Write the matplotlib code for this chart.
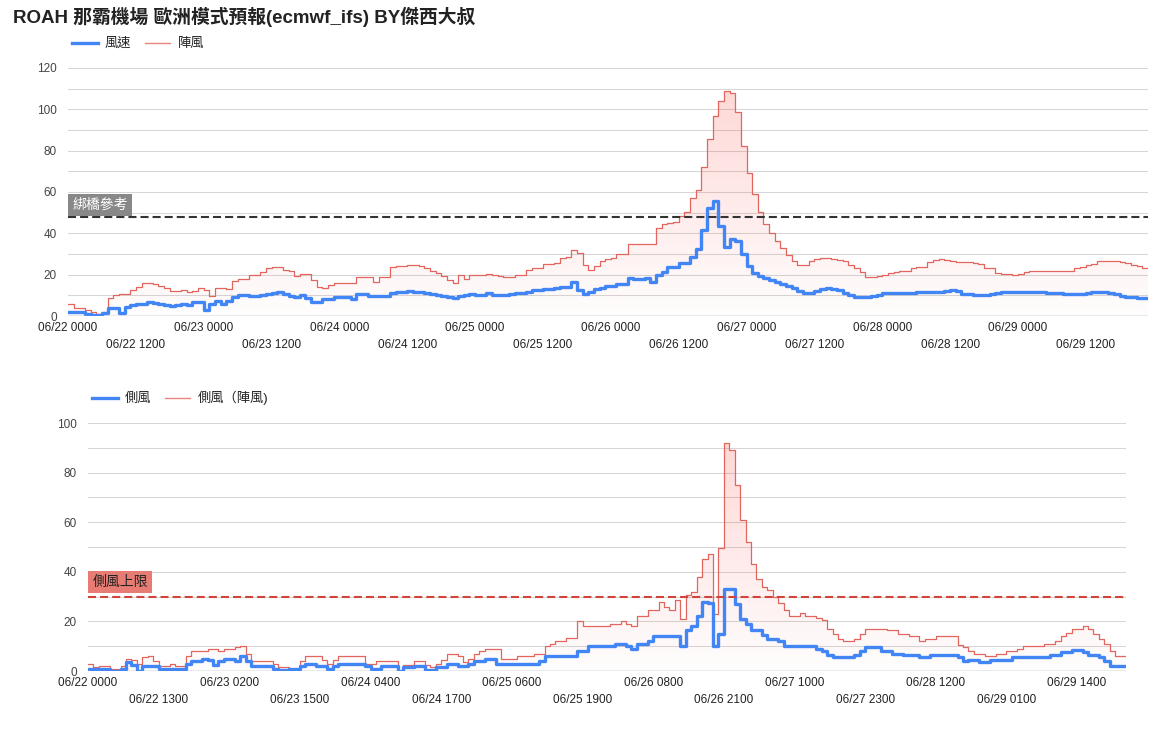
import numpy as np
import matplotlib
matplotlib.use("Agg")
import matplotlib.pyplot as plt
import matplotlib.transforms as mtransforms
from matplotlib.colors import LinearSegmentedColormap
from matplotlib.lines import Line2D

plt.rcParams['font.family'] = ['Liberation Sans', 'Noto Sans CJK TC']
plt.rcParams['lines.scale_dashes'] = False

# hourly forecast, 06/22 0000 .. 06/29 2300
hours = np.arange(192)

wind_speed = [
    2, 2, 2, 1, 0.5, 0.5, 1.5, 4, 4, 1.5,
    4.5, 5.5, 6, 6, 7, 6.5, 6, 5.5, 5, 5.5,
    6, 5.5, 7, 7, 3, 6, 7.5, 6, 7.5, 9,
    10, 10, 9.5, 9.5, 10, 10.5, 11, 11.5, 10.5, 9.5,
    9, 10, 8.5, 7, 7, 8, 8, 9, 9, 9,
    8, 10.5, 10.5, 9.5, 9.5, 9.5, 9.5, 11, 11.5, 11.5,
    12, 11.5, 11.5, 11, 10.5, 10, 9.5, 9, 8.5, 9.5,
    10, 10.5, 10, 10, 11, 10, 10, 10, 10.5, 11,
    11, 11.5, 12.5, 12.5, 13, 13, 13.5, 14, 14, 16.5,
    12.5, 10.5, 11.5, 13, 13.5, 14.5, 14.5, 15.5, 15.5, 18.5,
    18, 18, 18.5, 16.5, 20, 21.5, 23.5, 23.5, 25.5, 25.5,
    28.5, 32.5, 41.5, 52.5, 55.5, 43.5, 33.5, 37.5, 36.5, 30,
    24, 21, 19.5, 18.5, 17.5, 16.5, 15.5, 14.5, 13.5, 12,
    11, 11, 12, 13, 13.5, 13, 12.5, 11, 10, 9,
    9, 9, 9.5, 10, 11, 11, 11, 11, 11, 11,
    11.5, 11.5, 11.5, 11.5, 11.5, 12, 12.5, 12, 10.5, 10.5,
    10, 10, 10, 10.5, 11, 11.5, 11.5, 11.5, 11.5, 11.5,
    11.5, 11.5, 11.5, 11, 11, 11, 10.5, 10.5, 10.5, 10.5,
    11, 11.5, 11.5, 11.5, 11, 10.5, 9.5, 9, 9, 8.5,
    8.5, 8.5,
]

wind_gust = [
    6, 4, 4, 3, 2, 1, 2, 8.5, 10, 10.5,
    10.5, 12.5, 14, 16, 16, 15.5, 14.5, 13.5, 12, 12,
    12.5, 11.5, 12, 13.5, 12.5, 9.5, 13.5, 13.5, 13, 17,
    18, 18, 20, 20, 21.5, 23, 23.5, 23.5, 22.5, 22,
    19.5, 20.5, 20.5, 17.5, 14, 13.5, 15, 16, 16, 16,
    16, 19, 19, 19, 16.5, 19, 19, 23.5, 24, 24,
    24.5, 24.5, 24, 23, 22, 21, 19.5, 17.5, 16, 20,
    18, 20, 20, 20, 20.5, 20, 19.5, 19, 19, 20,
    20, 22.5, 23, 23, 25, 25, 25.5, 28, 28.5, 32,
    30.5, 24.5, 22.5, 24, 26.5, 27.5, 28, 30, 30, 35,
    35, 35, 35, 35, 42.5, 44.5, 45, 45.5, 48.5, 50.5,
    57, 61, 72, 85.5, 97, 104, 109, 108, 98.5, 82.5,
    69, 59, 50.5, 44.5, 40, 36.5, 33, 29.5, 26.5, 24.5,
    24.5, 26.5, 27.5, 28, 28, 27.5, 27, 26.5, 24.5, 23,
    21.5, 19, 19, 19.5, 20, 21, 21.5, 22, 22, 23,
    23.5, 23.5, 26, 27, 27.5, 27, 26.5, 26, 26, 26,
    25.5, 25, 23, 23, 21, 20.5, 20.5, 20, 20.5, 21.5,
    22, 22, 22, 22, 22, 22, 22, 22, 23, 23.5,
    24.5, 25, 26.5, 26.5, 26.5, 26.5, 26, 25.5, 24.5, 24,
    23, 23,
]

cross_wind = [
    1, 1, 1, 1, 0, 0, 1, 3.5, 2.5, 0,
    2, 2, 2, 1, 1, 1, 1, 1, 3, 4,
    4, 5, 4.5, 2.5, 4, 5, 5, 4, 6, 4,
    2, 2, 2, 2, 1, 0.5, 0.5, 1, 1, 2,
    3, 3, 2, 2, 1, 2, 3, 3, 3, 3,
    3, 2, 1, 1, 2, 2, 2, 0, 1.5, 1.5,
    2, 2, 0.5, 0.5, 1.5, 1.5, 3, 3, 2, 2,
    3, 4, 4, 5, 5, 3, 3, 3, 3, 3,
    3, 3, 3, 4, 6, 6, 6, 6, 6, 6,
    8, 8, 10, 10, 10, 10, 10, 11, 11, 10,
    9, 11, 11, 12, 14, 14, 14, 14, 14, 10,
    16.5, 18, 22, 28, 27.5, 10, 15, 33, 33, 27,
    21, 19, 16.5, 16.5, 14.5, 13, 13, 12, 10, 10,
    10, 10, 10, 10, 9, 8, 6.5, 5.5, 5.5, 5.5,
    5.5, 6.5, 8, 9.5, 9.5, 9.5, 8, 8, 7, 7,
    6.5, 6.5, 6.5, 5.5, 5.5, 6.5, 6.5, 6.5, 6.5, 6.5,
    5.5, 4, 4.5, 4.5, 3.5, 3.5, 4.5, 4.5, 4.5, 4.5,
    5.5, 5.5, 5.5, 5.5, 5.5, 5.5, 5.5, 6.5, 6.5, 7.5,
    7.5, 8.5, 8.5, 7.5, 6.5, 6.5, 5.5, 4, 2, 2,
    2, 2,
]

cross_gust = [
    3, 1.5, 2, 2, 1, 1, 2, 5, 4.5, 3,
    5.5, 6, 4, 2, 2, 3, 2, 2, 6, 8,
    8, 8, 9, 9, 8, 9, 9, 9.5, 10, 7,
    4, 4, 4, 4, 3, 1.5, 1.5, 1, 1, 4,
    6, 6, 6, 4.5, 3, 4.5, 6, 6, 6, 6,
    6, 3, 3, 4, 4, 4, 4, 0, 2.5, 2.5,
    4, 4, 2.5, 1.5, 3, 4.5, 7, 7, 6, 3.5,
    5, 7, 8, 9, 9, 9, 5, 5, 5, 6,
    6, 6, 7, 7, 10, 11, 12, 12, 13.5, 13.5,
    20, 18, 18, 18, 18, 18, 19, 19, 20, 19,
    18, 22, 22, 24.5, 24.5, 28, 26, 24.5, 28.5, 21,
    30.5, 32, 38, 45, 47, 23, 49.5, 92, 89, 75,
    61, 52, 43, 37, 34, 32.5, 30, 27.5, 24.5, 22,
    22, 23.5, 22, 22, 21.5, 20.5, 17, 15, 13, 12,
    12, 13, 15, 17, 17, 17, 17, 16.5, 16.5, 15,
    15, 14, 14, 12, 13, 13, 14, 14, 14, 14,
    10.5, 9.5, 8, 7, 7, 6, 6, 7, 7, 8,
    8, 9, 10, 10, 10, 10, 11, 11, 12, 14,
    15.5, 17, 17, 18, 17, 15, 13, 11, 8, 6,
    6, 6,
]

top_tick_hours = list(range(0, 192, 12))
top_tick_labels = ['06/22 0000', '06/22 1200', '06/23 0000', '06/23 1200',
                   '06/24 0000', '06/24 1200', '06/25 0000', '06/25 1200',
                   '06/26 0000', '06/26 1200', '06/27 0000', '06/27 1200',
                   '06/28 0000', '06/28 1200', '06/29 0000', '06/29 1200']
bottom_tick_hours = list(range(0, 192, 13))
bottom_tick_labels = ['06/22 0000', '06/22 1300', '06/23 0200', '06/23 1500',
                      '06/24 0400', '06/24 1700', '06/25 0600', '06/25 1900',
                      '06/26 0800', '06/26 2100', '06/27 1000', '06/27 2300',
                      '06/28 1200', '06/29 0100', '06/29 1400']

BLUE = '#4285f4'
RED = '#e2665d'

fill_cmap = LinearSegmentedColormap.from_list(
    'gustfill', [(1.0, 0.2, 0.2, 0.01), (0.97, 0.25, 0.2, 0.2)])


def draw_panel(ax, speed, gust, ymax, ref_value, ref_label, ref_color,
               ref_box, ref_text_color, label_lift, ticks, labels,
               legend_labels, legend_x, legend_y):
    speed = np.asarray(speed, dtype=float)
    gust = np.asarray(gust, dtype=float)

    # grid
    for v in range(10, ymax + 1, 10):
        ax.axhline(v, color='#d6d6d6', lw=0.75, zorder=0)
    ax.axhline(0, color='#9e9e9e', lw=1.0, zorder=4)

    # gust area with vertical gradient
    poly = ax.fill_between(hours, 0, gust, step='post', facecolor='none',
                           edgecolor='none')
    grad = np.linspace(0, 1, 256).reshape(-1, 1)
    im = ax.imshow(grad, cmap=fill_cmap, origin='lower', aspect='auto',
                   extent=[hours[0], hours[-1], 0, gust.max()], zorder=1,
                   interpolation='bilinear')
    im.set_clip_path(poly.get_paths()[0], transform=ax.transData)

    ax.step(hours, gust, where='post', color=RED, lw=0.9, zorder=3)
    ax.step(hours, speed, where='post', color=BLUE, lw=2.4, zorder=5)

    # reference line
    ax.axhline(ref_value, color=ref_color, lw=1.5, dashes=(5.8, 2.9), zorder=6)
    trans = mtransforms.blended_transform_factory(ax.transAxes, ax.transData)
    ax.annotate(ref_label, xy=(0, ref_value), xycoords=trans,
                xytext=(3.1, label_lift), textcoords='offset points',
                ha='left', va='bottom', fontsize=10, color=ref_text_color,
                bbox=dict(boxstyle='square,pad=0.3', fc=ref_box, ec='none'),
                zorder=7)

    ax.set_xlim(hours[0], hours[-1])
    ax.set_ylim(0, ymax)
    ax.set_yticks(range(0, ymax + 1, 20))
    ax.tick_params(axis='y', length=0, pad=8, labelsize=8.5, labelcolor='#444444')

    ax.set_xticks(ticks[::2])
    ax.set_xticklabels(labels[::2])
    ax.set_xticks(ticks[1::2], minor=True)
    ax.set_xticklabels(labels[1::2], minor=True)
    ax.tick_params(axis='x', which='major', length=0, pad=4, labelsize=8.5,
                   labelcolor='#222222')
    ax.tick_params(axis='x', which='minor', length=0, pad=16.5, labelsize=8.5,
                   labelcolor='#222222')
    for s in ax.spines.values():
        s.set_visible(False)

    handles = [Line2D([], [], color=BLUE, lw=2.4),
               Line2D([], [], color=RED, lw=1.0, alpha=0.8)]
    ax.legend(handles, legend_labels, loc='center left',
              bbox_to_anchor=(legend_x, legend_y), bbox_transform=ax.figure.transFigure,
              ncol=2, frameon=False, fontsize=9.5, handlelength=1.95,
              handletextpad=0.55, columnspacing=1.0, borderpad=0, borderaxespad=0,
              labelcolor='#222222')


fig = plt.figure(figsize=(11.71, 7.37), dpi=100)
W, H = 1171, 737

ax_top = fig.add_axes([68 / W, (H - 316) / H, 1080 / W, 248 / H])
ax_bot = fig.add_axes([88 / W, (H - 671) / H, 1038 / W, 248 / H])

draw_panel(ax_top, wind_speed, wind_gust, 120, 48, '綁橋參考', '#333333',
           '#888888', 'white', 3.6, top_tick_hours, top_tick_labels,
           ['風速', '陣風'], 72 / W, 1 - 44 / H)
draw_panel(ax_bot, cross_wind, cross_gust, 100, 30, '側風上限', '#d0443a',
           '#e67c73', '#222222', 5.3, bottom_tick_hours, bottom_tick_labels,
           ['側風', '側風（陣風)'], 92 / W, 1 - 398 / H)

fig.text(13 / W, 1 - 17 / H, 'ROAH 那霸機場 歐洲模式預報(ecmwf_ifs) BY傑西大叔',
         fontsize=13.5, fontweight='bold', color='#222222', ha='left', va='center')

fig.savefig('out.png', dpi=100)
